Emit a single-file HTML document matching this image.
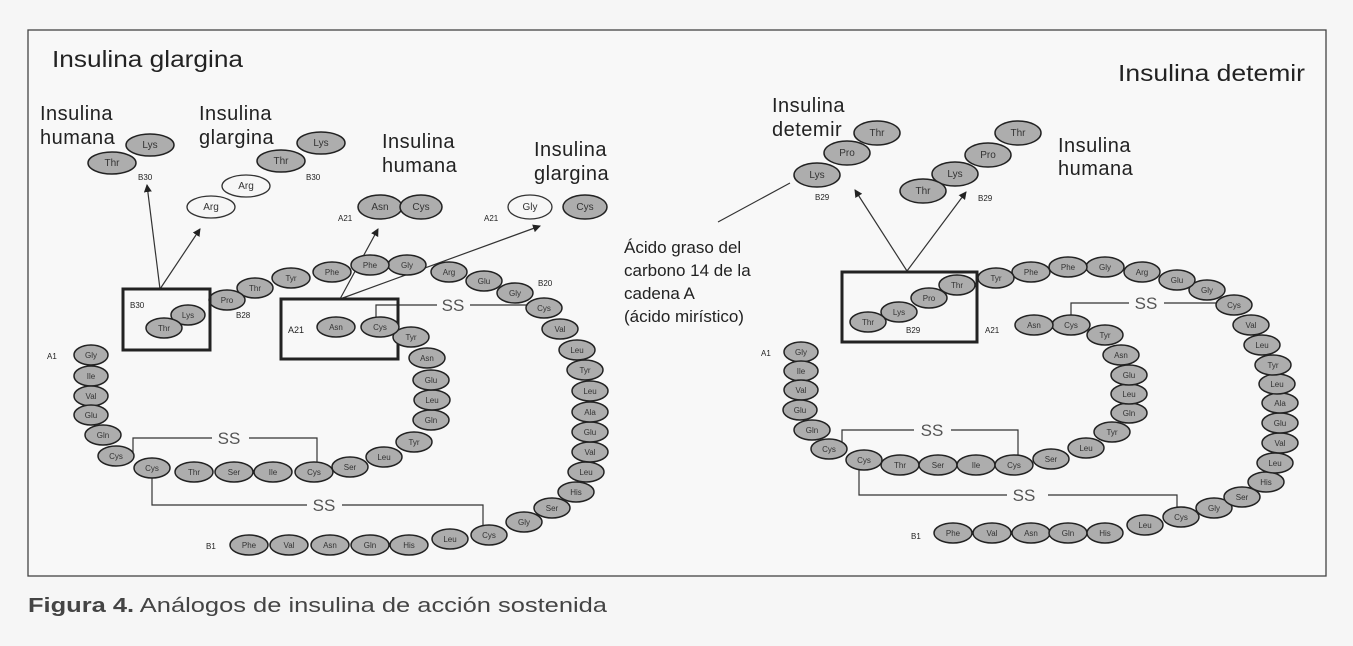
<!DOCTYPE html>
<html><head><meta charset="utf-8"><style>
html,body{margin:0;padding:0;background:#f6f6f6}
svg{display:block}
text{font-family:"Liberation Sans",Arial,sans-serif}
.e{fill:#adadad;stroke:#222;stroke-width:1.5}
.w{fill:#f6f6f6;stroke:#333;stroke-width:1.3}
.t{font-size:8px;fill:#333;text-anchor:middle}
.t2{font-size:10px;fill:#333;text-anchor:middle}
.L{font-size:20px;fill:#222;letter-spacing:0.5px}
.T{font-size:23px;fill:#222}
.s{font-size:8px;fill:#222}
.ln{stroke:#333;stroke-width:1.2;fill:none}
.ss{font-size:17px;fill:#555;text-anchor:middle}
.bx{stroke:#222;stroke-width:3;fill:none}
</style></head><body>
<svg width="1353" height="646" viewBox="0 0 1353 646" xmlns="http://www.w3.org/2000/svg">
<defs><marker id="a" markerWidth="8" markerHeight="8" refX="7" refY="4" orient="auto" markerUnits="userSpaceOnUse"><path d="M0,0 L8,4 L0,8 z" fill="#222"/></marker></defs>
<rect x="28" y="30" width="1298" height="546" fill="#f8f8f8" stroke="#444" stroke-width="1.3"/>

<!-- LEFT -->
<text x="52" y="67" class="T" textLength="191" lengthAdjust="spacingAndGlyphs">Insulina glargina</text>
<text x="40" y="120" class="L">Insulina</text><text x="40" y="144" class="L">humana</text>
<text x="199" y="120" class="L">Insulina</text><text x="199" y="144" class="L">glargina</text>
<text x="382" y="148" class="L">Insulina</text><text x="382" y="172" class="L">humana</text>
<text x="534" y="156" class="L">Insulina</text><text x="534" y="180" class="L">glargina</text>

<ellipse class="e" cx="150" cy="145" rx="24" ry="11"/><text class="t2" x="150" y="148">Lys</text>
<ellipse class="e" cx="112" cy="163" rx="24" ry="11"/><text class="t2" x="112" y="166">Thr</text>
<text class="s" x="138" y="180">B30</text>
<ellipse class="e" cx="321" cy="143" rx="24" ry="11"/><text class="t2" x="321" y="146">Lys</text>
<ellipse class="e" cx="281" cy="161" rx="24" ry="11"/><text class="t2" x="281" y="164">Thr</text>
<ellipse class="w" cx="246" cy="186" rx="24" ry="11"/><text class="t2" x="246" y="189">Arg</text>
<ellipse class="w" cx="211" cy="207" rx="24" ry="11"/><text class="t2" x="211" y="210">Arg</text>
<text class="s" x="306" y="180">B30</text>
<ellipse class="e" cx="380" cy="207" rx="22" ry="12"/><text class="t2" x="380" y="210">Asn</text>
<ellipse class="e" cx="421" cy="207" rx="21" ry="12"/><text class="t2" x="421" y="210">Cys</text>
<text class="s" x="338" y="221">A21</text>
<ellipse class="w" cx="530" cy="207" rx="22" ry="12"/><text class="t2" x="530" y="210">Gly</text>
<ellipse class="e" cx="585" cy="207" rx="22" ry="12"/><text class="t2" x="585" y="210">Cys</text>
<text class="s" x="484" y="221">A21</text>

<line class="ln" x1="160" y1="289" x2="147" y2="185" marker-end="url(#a)"/>
<line class="ln" x1="160" y1="289" x2="200" y2="229" marker-end="url(#a)"/>
<line class="ln" x1="340" y1="299" x2="378" y2="229" marker-end="url(#a)"/>
<line class="ln" x1="340" y1="299" x2="540" y2="226" marker-end="url(#a)"/>

<polyline class="ln" points="376,317 376,305 437,305"/><text class="ss" x="453" y="311">SS</text><polyline class="ln" points="470,305 528,305"/>
<polyline class="ln" points="133,452 133,438 212,438"/><text class="ss" x="229" y="444">SS</text><polyline class="ln" points="249,438 317,438 317,463"/>
<polyline class="ln" points="152,470 152,505 307,505"/><text class="ss" x="324" y="511">SS</text><polyline class="ln" points="342,505 483,505 483,530"/>

<g>
<ellipse class="e" cx="249" cy="545" rx="19" ry="10"/><text class="t" x="249" y="548">Phe</text>
<ellipse class="e" cx="289" cy="545" rx="19" ry="10"/><text class="t" x="289" y="548">Val</text>
<ellipse class="e" cx="330" cy="545" rx="19" ry="10"/><text class="t" x="330" y="548">Asn</text>
<ellipse class="e" cx="370" cy="545" rx="19" ry="10"/><text class="t" x="370" y="548">Gln</text>
<ellipse class="e" cx="409" cy="545" rx="19" ry="10"/><text class="t" x="409" y="548">His</text>
<ellipse class="e" cx="450" cy="539" rx="18" ry="10"/><text class="t" x="450" y="542">Leu</text>
<ellipse class="e" cx="489" cy="535" rx="18" ry="10"/><text class="t" x="489" y="538">Cys</text>
<ellipse class="e" cx="524" cy="522" rx="18" ry="10"/><text class="t" x="524" y="525">Gly</text>
<ellipse class="e" cx="552" cy="508" rx="18" ry="10"/><text class="t" x="552" y="511">Ser</text>
<ellipse class="e" cx="576" cy="492" rx="18" ry="10"/><text class="t" x="576" y="495">His</text>
<ellipse class="e" cx="586" cy="472" rx="18" ry="10"/><text class="t" x="586" y="475">Leu</text>
<ellipse class="e" cx="590" cy="452" rx="18" ry="10"/><text class="t" x="590" y="455">Val</text>
<ellipse class="e" cx="590" cy="432" rx="18" ry="10"/><text class="t" x="590" y="435">Glu</text>
<ellipse class="e" cx="590" cy="412" rx="18" ry="10"/><text class="t" x="590" y="415">Ala</text>
<ellipse class="e" cx="590" cy="391" rx="18" ry="10"/><text class="t" x="590" y="394">Leu</text>
<ellipse class="e" cx="585" cy="370" rx="18" ry="10"/><text class="t" x="585" y="373">Tyr</text>
<ellipse class="e" cx="577" cy="350" rx="18" ry="10"/><text class="t" x="577" y="353">Leu</text>
<ellipse class="e" cx="560" cy="329" rx="18" ry="10"/><text class="t" x="560" y="332">Val</text>
<ellipse class="e" cx="544" cy="308" rx="18" ry="10"/><text class="t" x="544" y="311">Cys</text>
<ellipse class="e" cx="515" cy="293" rx="18" ry="10"/><text class="t" x="515" y="296">Gly</text>
<ellipse class="e" cx="484" cy="281" rx="18" ry="10"/><text class="t" x="484" y="284">Glu</text>
<ellipse class="e" cx="449" cy="272" rx="18" ry="10"/><text class="t" x="449" y="275">Arg</text>
<ellipse class="e" cx="407" cy="265" rx="19" ry="10"/><text class="t" x="407" y="268">Gly</text>
<ellipse class="e" cx="370" cy="265" rx="19" ry="10"/><text class="t" x="370" y="268">Phe</text>
<ellipse class="e" cx="332" cy="272" rx="19" ry="10"/><text class="t" x="332" y="275">Phe</text>
<ellipse class="e" cx="291" cy="278" rx="19" ry="10"/><text class="t" x="291" y="281">Tyr</text>
<ellipse class="e" cx="255" cy="288" rx="18" ry="10"/><text class="t" x="255" y="291">Thr</text>
<ellipse class="e" cx="227" cy="300" rx="18" ry="10"/><text class="t" x="227" y="303">Pro</text>
<ellipse class="e" cx="188" cy="315" rx="17" ry="10"/><text class="t" x="188" y="318">Lys</text>
<ellipse class="e" cx="164" cy="328" rx="18" ry="10"/><text class="t" x="164" y="331">Thr</text>
</g>
<text class="s" x="130" y="308">B30</text>
<text class="s" x="236" y="318">B28</text>
<text class="s" x="538" y="286">B20</text>
<rect class="bx" x="123" y="289" width="87" height="61"/>
<rect class="bx" x="281" y="299" width="117" height="60"/>
<text class="s" x="288" y="333" style="font-size:9px">A21</text>
<text class="s" x="47" y="359">A1</text>

<g>
<ellipse class="e" cx="91" cy="355" rx="17" ry="10"/><text class="t" x="91" y="358">Gly</text>
<ellipse class="e" cx="91" cy="376" rx="17" ry="10"/><text class="t" x="91" y="379">Ile</text>
<ellipse class="e" cx="91" cy="396" rx="17" ry="10"/><text class="t" x="91" y="399">Val</text>
<ellipse class="e" cx="91" cy="415" rx="17" ry="10"/><text class="t" x="91" y="418">Glu</text>
<ellipse class="e" cx="103" cy="435" rx="18" ry="10"/><text class="t" x="103" y="438">Gln</text>
<ellipse class="e" cx="116" cy="456" rx="18" ry="10"/><text class="t" x="116" y="459">Cys</text>
<ellipse class="e" cx="152" cy="468" rx="18" ry="10"/><text class="t" x="152" y="471">Cys</text>
<ellipse class="e" cx="194" cy="472" rx="19" ry="10"/><text class="t" x="194" y="475">Thr</text>
<ellipse class="e" cx="234" cy="472" rx="19" ry="10"/><text class="t" x="234" y="475">Ser</text>
<ellipse class="e" cx="273" cy="472" rx="19" ry="10"/><text class="t" x="273" y="475">Ile</text>
<ellipse class="e" cx="314" cy="472" rx="19" ry="10"/><text class="t" x="314" y="475">Cys</text>
<ellipse class="e" cx="350" cy="467" rx="18" ry="10"/><text class="t" x="350" y="470">Ser</text>
<ellipse class="e" cx="384" cy="457" rx="18" ry="10"/><text class="t" x="384" y="460">Leu</text>
<ellipse class="e" cx="414" cy="442" rx="18" ry="10"/><text class="t" x="414" y="445">Tyr</text>
<ellipse class="e" cx="431" cy="420" rx="18" ry="10"/><text class="t" x="431" y="423">Gln</text>
<ellipse class="e" cx="432" cy="400" rx="18" ry="10"/><text class="t" x="432" y="403">Leu</text>
<ellipse class="e" cx="431" cy="380" rx="18" ry="10"/><text class="t" x="431" y="383">Glu</text>
<ellipse class="e" cx="427" cy="358" rx="18" ry="10"/><text class="t" x="427" y="361">Asn</text>
<ellipse class="e" cx="411" cy="337" rx="18" ry="10"/><text class="t" x="411" y="340">Tyr</text>
<ellipse class="e" cx="380" cy="327" rx="19" ry="10"/><text class="t" x="380" y="330">Cys</text>
<ellipse class="e" cx="336" cy="327" rx="19" ry="10"/><text class="t" x="336" y="330">Asn</text>
</g>

<!-- RIGHT -->
<text x="1118" y="81" class="T" textLength="187" lengthAdjust="spacingAndGlyphs">Insulina detemir</text>
<text x="772" y="112" class="L">Insulina</text><text x="772" y="136" class="L">detemir</text>
<text x="1058" y="152" class="L">Insulina</text><text x="1058" y="175" class="L">humana</text>
<ellipse class="e" cx="877" cy="133" rx="23" ry="12"/><text class="t2" x="877" y="136">Thr</text>
<ellipse class="e" cx="847" cy="153" rx="23" ry="12"/><text class="t2" x="847" y="156">Pro</text>
<ellipse class="e" cx="817" cy="175" rx="23" ry="12"/><text class="t2" x="817" y="178">Lys</text>
<text class="s" x="815" y="200">B29</text>
<ellipse class="e" cx="1018" cy="133" rx="23" ry="12"/><text class="t2" x="1018" y="136">Thr</text>
<ellipse class="e" cx="988" cy="155" rx="23" ry="12"/><text class="t2" x="988" y="158">Pro</text>
<ellipse class="e" cx="955" cy="174" rx="23" ry="12"/><text class="t2" x="955" y="177">Lys</text>
<ellipse class="e" cx="923" cy="191" rx="23" ry="12"/><text class="t2" x="923" y="194">Thr</text>
<text class="s" x="978" y="201">B29</text>
<line class="ln" x1="907" y1="271" x2="855" y2="190" marker-end="url(#a)"/>
<line class="ln" x1="907" y1="271" x2="966" y2="192" marker-end="url(#a)"/>
<line class="ln" x1="790" y1="183" x2="718" y2="222"/>
<text x="624" y="253" class="L" style="font-size:17px;letter-spacing:0">Ácido graso del</text>
<text x="624" y="276" class="L" style="font-size:17px;letter-spacing:0">carbono 14 de la</text>
<text x="624" y="299" class="L" style="font-size:17px;letter-spacing:0">cadena A</text>
<text x="624" y="322" class="L" style="font-size:17px;letter-spacing:0">(ácido mirístico)</text>

<polyline class="ln" points="1071,316 1071,303 1129,303"/><text class="ss" x="1146" y="309">SS</text><polyline class="ln" points="1164,303 1220,303"/>
<polyline class="ln" points="842,445 842,430 914,430"/><text class="ss" x="932" y="436">SS</text><polyline class="ln" points="951,430 1018,430 1018,456"/>
<polyline class="ln" points="859,468 859,495 1007,495"/><text class="ss" x="1024" y="501">SS</text><polyline class="ln" points="1048,495 1177,495 1177,512"/>

<g>
<ellipse class="e" cx="953" cy="533" rx="19" ry="10"/><text class="t" x="953" y="536">Phe</text>
<ellipse class="e" cx="992" cy="533" rx="19" ry="10"/><text class="t" x="992" y="536">Val</text>
<ellipse class="e" cx="1031" cy="533" rx="19" ry="10"/><text class="t" x="1031" y="536">Asn</text>
<ellipse class="e" cx="1068" cy="533" rx="19" ry="10"/><text class="t" x="1068" y="536">Gln</text>
<ellipse class="e" cx="1105" cy="533" rx="18" ry="10"/><text class="t" x="1105" y="536">His</text>
<ellipse class="e" cx="1145" cy="525" rx="18" ry="10"/><text class="t" x="1145" y="528">Leu</text>
<ellipse class="e" cx="1181" cy="517" rx="18" ry="10"/><text class="t" x="1181" y="520">Cys</text>
<ellipse class="e" cx="1214" cy="508" rx="18" ry="10"/><text class="t" x="1214" y="511">Gly</text>
<ellipse class="e" cx="1242" cy="497" rx="18" ry="10"/><text class="t" x="1242" y="500">Ser</text>
<ellipse class="e" cx="1266" cy="482" rx="18" ry="10"/><text class="t" x="1266" y="485">His</text>
<ellipse class="e" cx="1275" cy="463" rx="18" ry="10"/><text class="t" x="1275" y="466">Leu</text>
<ellipse class="e" cx="1280" cy="443" rx="18" ry="10"/><text class="t" x="1280" y="446">Val</text>
<ellipse class="e" cx="1280" cy="423" rx="18" ry="10"/><text class="t" x="1280" y="426">Glu</text>
<ellipse class="e" cx="1280" cy="403" rx="18" ry="10"/><text class="t" x="1280" y="406">Ala</text>
<ellipse class="e" cx="1277" cy="384" rx="18" ry="10"/><text class="t" x="1277" y="387">Leu</text>
<ellipse class="e" cx="1273" cy="365" rx="18" ry="10"/><text class="t" x="1273" y="368">Tyr</text>
<ellipse class="e" cx="1262" cy="345" rx="18" ry="10"/><text class="t" x="1262" y="348">Leu</text>
<ellipse class="e" cx="1251" cy="325" rx="18" ry="10"/><text class="t" x="1251" y="328">Val</text>
<ellipse class="e" cx="1234" cy="305" rx="18" ry="10"/><text class="t" x="1234" y="308">Cys</text>
<ellipse class="e" cx="1207" cy="290" rx="18" ry="10"/><text class="t" x="1207" y="293">Gly</text>
<ellipse class="e" cx="1177" cy="280" rx="18" ry="10"/><text class="t" x="1177" y="283">Glu</text>
<ellipse class="e" cx="1142" cy="272" rx="18" ry="10"/><text class="t" x="1142" y="275">Arg</text>
<ellipse class="e" cx="1105" cy="267" rx="19" ry="10"/><text class="t" x="1105" y="270">Gly</text>
<ellipse class="e" cx="1068" cy="267" rx="19" ry="10"/><text class="t" x="1068" y="270">Phe</text>
<ellipse class="e" cx="1031" cy="272" rx="19" ry="10"/><text class="t" x="1031" y="275">Phe</text>
<ellipse class="e" cx="996" cy="278" rx="18" ry="10"/><text class="t" x="996" y="281">Tyr</text>
<ellipse class="e" cx="957" cy="285" rx="18" ry="10"/><text class="t" x="957" y="288">Thr</text>
<ellipse class="e" cx="929" cy="298" rx="18" ry="10"/><text class="t" x="929" y="301">Pro</text>
<ellipse class="e" cx="899" cy="312" rx="18" ry="10"/><text class="t" x="899" y="315">Lys</text>
<ellipse class="e" cx="868" cy="322" rx="18" ry="10"/><text class="t" x="868" y="325">Thr</text>
</g>
<text class="s" x="906" y="333">B29</text>
<rect class="bx" x="842" y="272" width="135" height="70"/>
<text class="s" x="985" y="333">A21</text>
<text class="s" x="761" y="356">A1</text>
<text class="s" x="911" y="539">B1</text>
<text class="s" x="206" y="549">B1</text>

<g>
<ellipse class="e" cx="801" cy="352" rx="17" ry="10"/><text class="t" x="801" y="355">Gly</text>
<ellipse class="e" cx="801" cy="371" rx="17" ry="10"/><text class="t" x="801" y="374">Ile</text>
<ellipse class="e" cx="801" cy="390" rx="17" ry="10"/><text class="t" x="801" y="393">Val</text>
<ellipse class="e" cx="800" cy="410" rx="17" ry="10"/><text class="t" x="800" y="413">Glu</text>
<ellipse class="e" cx="812" cy="430" rx="18" ry="10"/><text class="t" x="812" y="433">Gln</text>
<ellipse class="e" cx="829" cy="449" rx="18" ry="10"/><text class="t" x="829" y="452">Cys</text>
<ellipse class="e" cx="864" cy="460" rx="18" ry="10"/><text class="t" x="864" y="463">Cys</text>
<ellipse class="e" cx="900" cy="465" rx="19" ry="10"/><text class="t" x="900" y="468">Thr</text>
<ellipse class="e" cx="938" cy="465" rx="19" ry="10"/><text class="t" x="938" y="468">Ser</text>
<ellipse class="e" cx="976" cy="465" rx="19" ry="10"/><text class="t" x="976" y="468">Ile</text>
<ellipse class="e" cx="1014" cy="465" rx="19" ry="10"/><text class="t" x="1014" y="468">Cys</text>
<ellipse class="e" cx="1051" cy="459" rx="18" ry="10"/><text class="t" x="1051" y="462">Ser</text>
<ellipse class="e" cx="1086" cy="448" rx="18" ry="10"/><text class="t" x="1086" y="451">Leu</text>
<ellipse class="e" cx="1112" cy="432" rx="18" ry="10"/><text class="t" x="1112" y="435">Tyr</text>
<ellipse class="e" cx="1129" cy="413" rx="18" ry="10"/><text class="t" x="1129" y="416">Gln</text>
<ellipse class="e" cx="1129" cy="394" rx="18" ry="10"/><text class="t" x="1129" y="397">Leu</text>
<ellipse class="e" cx="1129" cy="375" rx="18" ry="10"/><text class="t" x="1129" y="378">Glu</text>
<ellipse class="e" cx="1121" cy="355" rx="18" ry="10"/><text class="t" x="1121" y="358">Asn</text>
<ellipse class="e" cx="1105" cy="335" rx="18" ry="10"/><text class="t" x="1105" y="338">Tyr</text>
<ellipse class="e" cx="1071" cy="325" rx="19" ry="10"/><text class="t" x="1071" y="328">Cys</text>
<ellipse class="e" cx="1034" cy="325" rx="19" ry="10"/><text class="t" x="1034" y="328">Asn</text>
</g>

<text x="28" y="612" style="font-size:20px;fill:#444" textLength="579" lengthAdjust="spacingAndGlyphs"><tspan font-weight="bold">Figura 4.</tspan> Análogos de insulina de acción sostenida</text>
</svg>
</body></html>
